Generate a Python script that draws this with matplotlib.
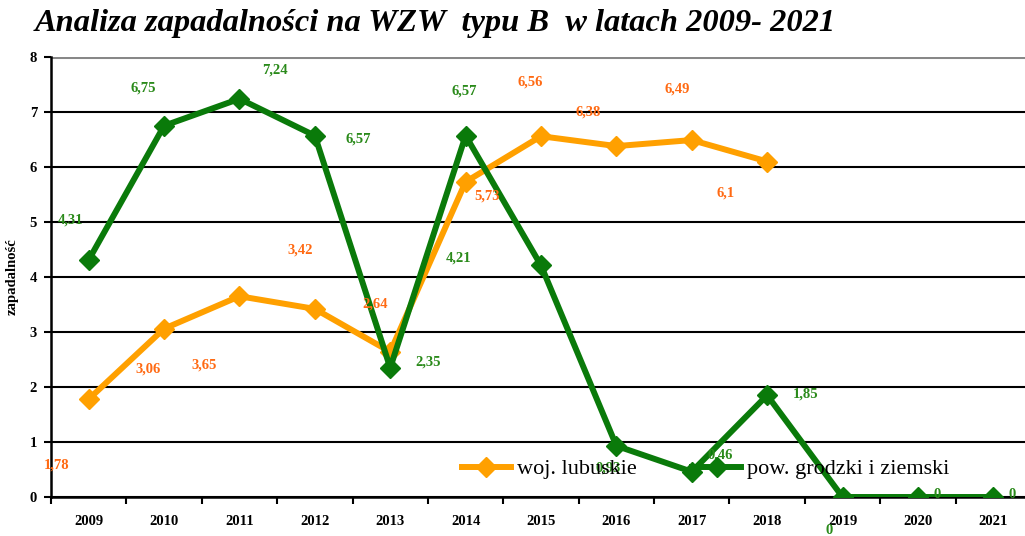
import matplotlib.pyplot as plt
from matplotlib.ticker import FixedLocator

years = ["2009", "2010", "2011", "2012", "2013", "2014", "2015",
         "2016", "2017", "2018", "2019", "2020", "2021"]
woj_lubuskie = [1.78, 3.06, 3.65, 3.42, 2.64, 5.73, 6.56, 6.38, 6.49, 6.1]
pow_grodzki = [4.31, 6.75, 7.24, 6.57, 2.35, 6.57, 4.21, 0.93, 0.46, 1.85, 0, 0, 0]

# label offsets in pixels (dx, dy), Excel put them in odd places
off_orange = [(-32, -66), (-16, -40), (-35, -69), (-15, 59), (-15, 48),
              (21, -14), (-11, 54), (-28, 34), (-15, 51), (-42, -32)]
off_green = [(-18, 40), (-21, 38), (35, 29), (43, -3), (38, 6), (-1, 45),
             (-82, 7), (-8, -22), (28, 17), (38, 1), (-13, -33), (19, 2), (19, 2)]

ORANGE = "#FFA000"
ORANGE_TXT = "#FF6A13"
GREEN = "#0A7A0A"
GREEN_TXT = "#2A8A1A"

plt.rcParams["font.family"] = "Liberation Serif"

fig = plt.figure(figsize=(10.25, 5.36), dpi=100)
ax = fig.add_axes([51 / 1025, 1 - 497 / 536, 980 / 1025, 440 / 536])

x = list(range(len(years)))
ax.plot(x[:len(woj_lubuskie)], woj_lubuskie, color=ORANGE, lw=4.3, marker="D",
        markersize=10, label="woj. lubuskie", zorder=3)
ax.plot(x, pow_grodzki, color=GREEN, lw=4.3, marker="D",
        markersize=10, label="pow. grodzki i ziemski", zorder=4)

for i, v in enumerate(woj_lubuskie):
    dx, dy = off_orange[i]
    ax.annotate(f"{v:g}".replace(".", ","), (i, v), xytext=(dx * 0.72, dy * 0.72),
                textcoords="offset points", ha="center", va="center",
                color=ORANGE_TXT, fontsize=10.5, fontweight="bold", zorder=5,
                annotation_clip=False)
for i, v in enumerate(pow_grodzki):
    dx, dy = off_green[i]
    ax.annotate(f"{v:g}".replace(".", ","), (i, v), xytext=(dx * 0.72, dy * 0.72),
                textcoords="offset points", ha="center", va="center",
                color=GREEN_TXT, fontsize=10.5, fontweight="bold", zorder=5,
                annotation_clip=False)

ax.set_xlim(-0.5, len(years) - 0.5)
ax.set_ylim(0, 8)
ax.set_yticks(range(0, 9))
ax.set_xticks(x)
ax.set_xticklabels(years)
ax.xaxis.set_minor_locator(FixedLocator([i - 0.5 for i in range(len(years) + 1)]))
ax.tick_params(axis="x", which="major", length=0, pad=13, labelsize=10.5)
ax.tick_params(axis="x", which="minor", length=5, width=1.5, direction="out")
ax.tick_params(axis="y", length=5, width=1.5, direction="out", labelsize=10.5, pad=5)
for lab in ax.get_xticklabels() + ax.get_yticklabels():
    lab.set_fontweight("bold")

ax.grid(axis="y", color="black", lw=1.5)
ax.get_ygridlines()[-1].set_color("#888888")
ax.get_ygridlines()[-1].set_linewidth(2.2)
ax.spines["top"].set_visible(False)
ax.spines["right"].set_visible(False)
ax.spines["left"].set_linewidth(1.8)
ax.spines["bottom"].set_linewidth(1.8)
ax.set_axisbelow(True)

ax.set_ylabel("zapadalność", fontsize=10.5, fontweight="bold", labelpad=8)

ax.legend(loc="lower left", bbox_to_anchor=(0.41, 0.02), ncol=2, frameon=False,
          fontsize=16, handlelength=2.2, handletextpad=0.28, columnspacing=2.5,
          borderaxespad=0)

fig.text(35 / 1025, 1 - 23 / 536, "Analiza zapadalności na WZW  typu B  w latach 2009- 2021",
         fontsize=23.4, fontweight="bold", fontstyle="italic", va="center", ha="left")

fig.savefig("out.png", dpi=100, facecolor="white")
